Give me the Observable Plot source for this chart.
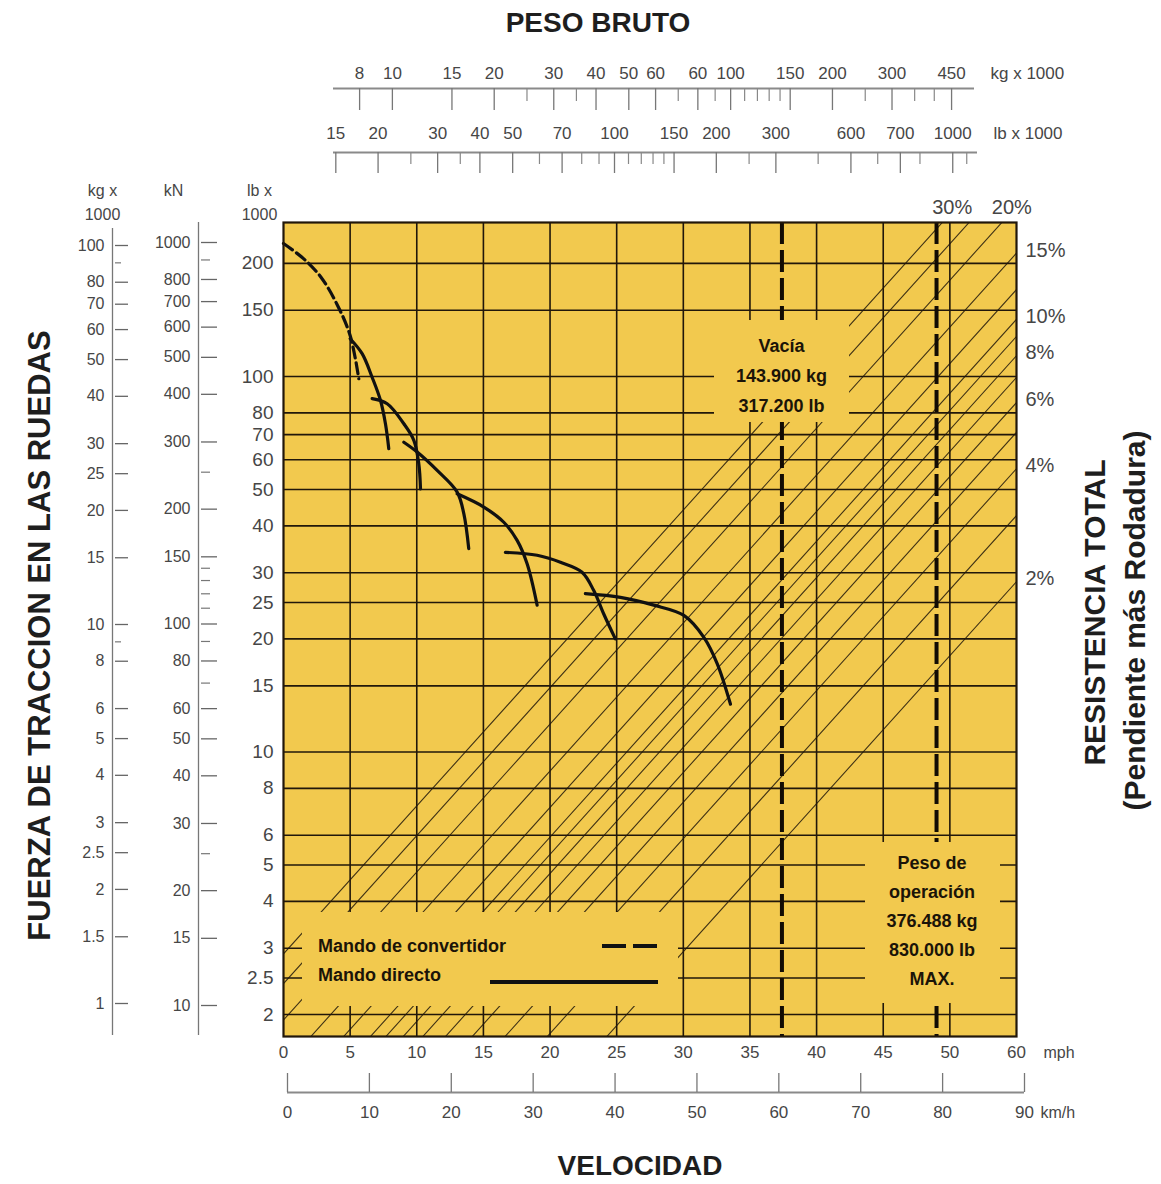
<!DOCTYPE html>
<html><head><meta charset="utf-8">
<script src="https://cdn.jsdelivr.net/npm/d3@7"></script>
<script src="https://cdn.jsdelivr.net/npm/@observablehq/plot@0.6"></script>
<style>
html,body{margin:0;padding:0;background:#fff;overflow:hidden;}
#chart{position:relative;width:1161px;height:1184px;font-family:"Liberation Sans",Arial,Helvetica,sans-serif;}
#chart svg{position:absolute;left:0;top:0;}
.box{position:absolute;background:#F2C94E;color:#1b1408;font-weight:bold;font-size:18px;text-align:center;box-sizing:border-box;}
.box div{white-space:nowrap;}
.leg{position:absolute;background:#F2C94E;box-sizing:border-box;}
.leg span{position:absolute;font-weight:bold;font-size:18px;color:#1b1408;white-space:nowrap;line-height:20px;}
</style></head><body><div id="chart"></div>
<script>
// ---------------- DATA ----------------
const speedTicks = [0,5,10,15,20,25,30,35,40,45,50,55];
const speedTickLabels = ["0","5","10","15","20","25","30","35","40","45","50","60"];
const speedGrid = [5,10,15,20,25,30,35,40,45,50];
const kmhTicks = [0,10,20,30,40,50,60,70,80,90];

const rimpullLbTicks = [200,150,100,80,70,60,50,40,30,25,20,15,10,8,6,5,4,3,2.5,2];
const rimpullKgMajor = [100,80,70,60,50,40,30,25,20,15,10,8,6,5,4,3,2.5,2,1.5,1];
const rimpullKgMinor = [90,9];
const rimpullKnMajor = [1000,800,700,600,500,400,300,200,150,100,80,60,50,40,30,20,15,10];
const rimpullKnMinor = [900,250,140,130,120,110,90,70,25];

const weightKgMajor = [8,10,15,20,30,40,50,60,80,100,150,200,300,450];
const weightKgLabels = ["8","10","15","20","30","40","50","60","60","100","150","200","300","450"];
const weightKgMinor = [25,35,70,90,110,120,130,140,250,350,400];
const weightLbMajor = [15,20,30,40,50,70,100,150,200,300,500,700,1000];
const weightLbLabels = ["15","20","30","40","50","70","100","150","200","300","600","700","1000"];
const weightLbMinor = [25,35,60,80,90,110,120,130,140,250,400,600,800,1100];

const gradePercents = [2,3,4,5,6,7,8,9,10,12,15,20,25,30];
const gradeLabelsRight = [{r:15,label:"15%"},{r:10,label:"10%"},{r:8,label:"8%"},{r:6,label:"6%"},{r:4,label:"4%"},{r:2,label:"2%"}];
const gradeLabelsTop = [{r:30,label:"30%"},{r:20,label:"20%"}];

// speed (mph), rimpull (lb x 1000)
const converterDrive = [[0,226],[1.5,206],[2.8,184],[4.0,156],[5.0,128.5],[5.65,98.6]];
const gear1 = [[5.0,126],[5.9,115],[6.65,99.5],[7.28,86.3],[7.65,74.8],[7.9,64.2]];
const gear2 = [[6.65,87.3],[7.78,84.6],[9.03,74.8],[9.78,67.6],[10.15,58.6],[10.28,50.2]];
const gear3 = [[9.03,66.8],[10.03,62.9],[11.53,56.2],[13.03,49.2],[13.53,43.1],[13.9,34.8]];
const gear4 = [[13.03,48.7],[15.03,44.9],[16.53,40.9],[17.53,36.6],[18.28,31.7],[19.03,24.6]];
const gear5 = [[16.65,34.0],[19.03,33.4],[20.78,32.0],[22.4,30.1],[23.28,26.9],[24.03,23.3],[24.9,20.0]];
const gear6 = [[22.65,26.4],[25.28,25.8],[27.78,24.6],[30.04,23.1],[31.54,20.2],[32.54,17.2],[33.54,13.4]];
const directDrive = [gear1,gear2,gear3,gear4,gear5,gear6];

// gross-weight marker lines (position read on the chart, mph) and their labels
const weightMarkers = [
  {mph: 37.4, rimpull: 100, lines: ["Vacía","143.900 kg","317.200 lb"]},
  {mph: 49.0, rimpull: 3.52, lines: ["Peso de","operación","376.488 kg","830.000 lb","MAX."]}
];
const legendItems = [{label:"Mando de convertidor", dashed:true},{label:"Mando directo", dashed:false}];

// ---------------- SCALE CALIBRATION ----------------
const W = 1161, H = 1184;
const FONT = '"Liberation Sans", Arial, Helvetica, sans-serif';
const INK = "#21170a";
const YELLOW = "#F2C94E";
const LABEL = "#464646";
const TITLE = "#1e1e1e";
const LB_PER_KG = 2.20462;
const mL = 283, mR = 145, mT = 222, mB = 148;
const pxPerMph = (W - mL - mR) / 55;
const pxToMph = px => (px - mL) / pxPerMph;
// top gross-weight scale: kg x1000 = 10 at 8.17 mph, 100 at 33.55 mph
const kgToMph = kg => 8.17 + 25.38 * Math.log10(kg / 10);
const mphToKg = m => 10 * Math.pow(10, (m - 8.17) / 25.38);
const gradeFactor = 0.92;
const gradeRimpull = (r, m) => r / 100 * gradeFactor * mphToKg(m) * LB_PER_KG;
const yTop = 257, yBottom = 1.747;
const gradeMphAtTop = r => kgToMph(yTop / (r / 100 * gradeFactor * LB_PER_KG));

const gradeSegments = gradePercents.flatMap(r => [-2, 58].map(m => ({r, mph: m, rimpull: gradeRimpull(r, m)})));
const tx = (arr, labels) => arr.map((v, i) => ({v, label: labels ? labels[i] : String(v)}));
const baseStyle = {background: "transparent", overflow: "visible", fontFamily: FONT};
const M = "middle";

// ---------------- MAIN PLOT ----------------
const main = Plot.plot({
  width: W, height: H, marginLeft: mL, marginRight: mR, marginTop: mT, marginBottom: mB,
  x: {domain: [0, 55], axis: null},
  y: {type: "log", domain: [yBottom, yTop], axis: null},
  style: baseStyle,
  marks: [
    Plot.frame({fill: YELLOW, stroke: null}),
    Plot.line(gradeSegments, {x: "mph", y: "rimpull", z: "r", stroke: INK, strokeWidth: 1.1, strokeOpacity: 0.85, clip: true}),
    Plot.ruleX(speedGrid, {stroke: INK, strokeWidth: 1.6}),
    Plot.ruleY(rimpullLbTicks, {stroke: INK, strokeWidth: 1.6}),
    Plot.ruleX(weightMarkers, {x: "mph", stroke: "#120c04", strokeWidth: 4, strokeDasharray: "22,6"}),
    Plot.line(converterDrive, {x: d => d[0], y: d => d[1], curve: "catmull-rom", stroke: "#111", strokeWidth: 3.2, strokeDasharray: "11,5"}),
    ...directDrive.map(g => Plot.line(g, {x: d => d[0], y: d => d[1], curve: "catmull-rom", stroke: "#111", strokeWidth: 3.2})),
    Plot.frame({stroke: INK, strokeWidth: 2.2}),
    Plot.text(rimpullLbTicks, {y: d => d, text: d => String(d), frameAnchor: "left", textAnchor: "end", lineAnchor: M, dx: -10, fontSize: 19, fill: LABEL}),
    Plot.text(tx(speedTicks, speedTickLabels), {x: "v", text: "label", frameAnchor: "bottom", lineAnchor: M, dy: 16, fontSize: 17, fill: LABEL}),
    Plot.text(["mph"], {text: d => d, frameAnchor: "bottom-right", textAnchor: "start", lineAnchor: M, dx: 27, dy: 16, fontSize: 16, fill: LABEL}),
    Plot.text(gradeLabelsRight, {y: d => gradeRimpull(d.r, 55), text: "label", frameAnchor: "right", textAnchor: "start", lineAnchor: M, dx: 9, dy: -3, fontSize: 20, fill: LABEL}),
    Plot.text(gradeLabelsTop, {x: d => gradeMphAtTop(d.r), text: "label", frameAnchor: "top", lineAnchor: M, dx: 10, dy: -15, fontSize: 20, fill: LABEL}),
    Plot.text(["lb x\n1000"], {text: d => d, frameAnchor: "top-left", textAnchor: M, lineAnchor: M, dx: -24, dy: -22, lineHeight: 1.5, fontSize: 16, fill: LABEL}),
    Plot.text(["PESO BRUTO"], {text: d => d, frameAnchor: "top", textAnchor: M, lineAnchor: M, dx: -52, dy: -199, fontSize: 28, fontWeight: "bold", fill: TITLE}),
    Plot.text(["VELOCIDAD"], {text: d => d, frameAnchor: "bottom", textAnchor: M, lineAnchor: M, dx: -10, dy: 130, fontSize: 28, fontWeight: "bold", fill: TITLE}),
    Plot.text(["FUERZA DE TRACCION EN LAS RUEDAS"], {text: d => d, frameAnchor: "left", textAnchor: M, lineAnchor: M, dx: -243, dy: 6, rotate: -90, fontSize: 31, fontWeight: "bold", fill: TITLE}),
    Plot.text(["RESISTENCIA TOTAL"], {text: d => d, frameAnchor: "right", textAnchor: M, lineAnchor: M, dx: 79, dy: -17, rotate: -90, fontSize: 30, fontWeight: "bold", fill: TITLE}),
    Plot.text(["(Pendiente más Rodadura)"], {text: d => d, frameAnchor: "right", textAnchor: M, lineAnchor: M, dx: 119, dy: -9, rotate: -90, fontSize: 30, fontWeight: "bold", fill: TITLE})
  ]
});

// ---------------- LEFT AXES (kg x1000, kN) ----------------
const kgAtPx = p => Math.pow(10, (1003 - p) / 379);        // kg x1000 scale as drawn
const knAtPx = p => Math.pow(10, 1 + (1005 - p) / 381.5);  // kN scale as drawn
function leftAxis(left, right, top, bottom, domain, major, minor, header, hdx, hdy) {
  return Plot.plot({
    width: W, height: H, marginLeft: left, marginRight: W - right, marginTop: top, marginBottom: H - bottom,
    x: {domain: [0, 1], axis: null},
    y: {type: "log", domain, axis: null},
    style: baseStyle,
    marks: [
      Plot.ruleX([0], {stroke: "#777", strokeWidth: 1.3}),
      Plot.tickY(major, {y: d => d, stroke: "#666", strokeWidth: 1.3, insetLeft: 3}),
      Plot.tickY(minor, {y: d => d, stroke: "#777", strokeWidth: 1.2, insetLeft: 3, insetRight: 7}),
      Plot.text(major, {y: d => d, text: d => String(d), frameAnchor: "left", textAnchor: "end", lineAnchor: M, dx: -8, fontSize: 16, fill: LABEL}),
      Plot.text([header], {text: d => d, frameAnchor: "top-left", textAnchor: M, lineAnchor: M, dx: hdx, dy: hdy, lineHeight: 1.5, fontSize: 16, fill: LABEL})
    ]
  });
}
const kgAxis = leftAxis(112, 128, 228, 1035, [kgAtPx(1035), kgAtPx(228)], rimpullKgMajor, rimpullKgMinor, "kg x\n1000", -10, -28);
const knAxis = leftAxis(198, 217, 222, 1035, [knAtPx(1035), knAtPx(222)], rimpullKnMajor, rimpullKnMinor, "kN", -25, -34);

// ---------------- TOP WEIGHT SCALES ----------------
function topScale(left, right, top, bottom, domain, major, labels, minor, unit, ldy) {
  return Plot.plot({
    width: W, height: H, marginLeft: left, marginRight: W - right, marginTop: top, marginBottom: H - bottom,
    x: {type: "log", domain, axis: null},
    y: {domain: [0, 1], axis: null},
    style: baseStyle,
    marks: [
      Plot.ruleY([1], {stroke: "#8a8a8a", strokeWidth: 2}),
      Plot.tickX(major, {x: d => d, stroke: "#777", strokeWidth: 1.3}),
      Plot.tickX(minor, {x: d => d, stroke: "#888", strokeWidth: 1.2, insetBottom: 9}),
      Plot.text(tx(major, labels), {x: "v", text: "label", frameAnchor: "top", lineAnchor: M, dy: ldy, fontSize: 17, fill: LABEL}),
      Plot.text([unit], {text: d => d, frameAnchor: "top-right", textAnchor: "start", lineAnchor: M, dx: 16, dy: ldy, fontSize: 17, fill: LABEL})
    ]
  });
}
const kgDomain = [mphToKg(pxToMph(333)), mphToKg(pxToMph(974))];
const lbDomain = [mphToKg(pxToMph(333)) * LB_PER_KG, mphToKg(pxToMph(977)) * LB_PER_KG];
const kgTop = topScale(333, 974, 88, 110, kgDomain, weightKgMajor, weightKgLabels, weightKgMinor, "kg x 1000", -15);
const lbTop = topScale(333, 977, 152, 173, lbDomain, weightLbMajor, weightLbLabels, weightLbMinor, "lb x 1000", -19);

// ---------------- BOTTOM km/h SCALE ----------------
const kmhAxis = Plot.plot({
  width: W, height: H, marginLeft: 287, marginRight: W - 1024, marginTop: 1073, marginBottom: H - 1092,
  x: {domain: [0, 90], axis: null},
  y: {domain: [0, 1], axis: null},
  style: baseStyle,
  marks: [
    Plot.ruleY([0], {stroke: "#8a8a8a", strokeWidth: 2}),
    Plot.tickX(kmhTicks, {x: d => d, stroke: "#777", strokeWidth: 1.3}),
    Plot.text(kmhTicks, {x: d => d, text: d => String(d), frameAnchor: "bottom", lineAnchor: M, dy: 20, fontSize: 17, fill: LABEL}),
    Plot.text(["km/h"], {text: d => d, frameAnchor: "bottom-right", textAnchor: "start", lineAnchor: M, dx: 16, dy: 20, fontSize: 16, fill: LABEL})
  ]
});

const chart = document.getElementById("chart");
[main, kgAxis, knAxis, kgTop, lbTop, kmhAxis].forEach(s => chart.appendChild(s));

// ---------------- ANNOTATION BOXES (positioned with the plot scales) ----------------
const xs = main.scale("x"), ys = main.scale("y");
function addBox(m, width, padTop, padBottom, lineH, dxc) {
  const n = m.lines.length;
  const cy = ys.apply(m.rimpull);
  const box = document.createElement("div");
  box.className = "box";
  const h = padTop + padBottom + n * lineH;
  box.style.width = width + "px";
  box.style.height = h + "px";
  box.style.left = (xs.apply(m.mph) + dxc - width / 2) + "px";
  box.style.top = (cy - padTop - (n - 1) / 2 * lineH - lineH / 2) + "px";
  box.style.paddingTop = padTop + "px";
  m.lines.forEach(t => { const d = document.createElement("div"); d.textContent = t; d.style.height = lineH + "px"; d.style.lineHeight = lineH + "px"; box.appendChild(d); });
  chart.appendChild(box);
}
addBox(weightMarkers[0], 135, 11, 1, 30, 0);
addBox(weightMarkers[1], 135, 7, 9, 29, -4);

// legend
const fyB = ys.range[0];
const leg = document.createElement("div");
leg.className = "leg";
const legL = mL + 19, legR = mL + 395, legT = fyB - 124, legB = fyB - 30;
leg.style.left = legL + "px"; leg.style.top = legT + "px";
leg.style.width = (legR - legL) + "px"; leg.style.height = (legB - legT) + "px";
const ns = "http://www.w3.org/2000/svg";
legendItems.forEach((it, i) => {
  const s = document.createElement("span");
  s.textContent = it.label;
  s.style.left = "16px";
  s.style.top = (24 + i * 29) + "px";
  leg.appendChild(s);
});
const lsvg = document.createElementNS(ns, "svg");
lsvg.setAttribute("width", legR - legL); lsvg.setAttribute("height", legB - legT);
lsvg.style.position = "absolute"; lsvg.style.left = "0"; lsvg.style.top = "0";
legendItems.forEach((it, i) => {
  const l = document.createElementNS(ns, "line");
  const y = 34 + i * 36;
  l.setAttribute("x1", it.dashed ? 300 : 188); l.setAttribute("x2", 356);
  l.setAttribute("y1", y); l.setAttribute("y2", y);
  l.setAttribute("stroke", "#111"); l.setAttribute("stroke-width", "4");
  if (it.dashed) l.setAttribute("stroke-dasharray", "24,7");
  lsvg.appendChild(l);
});
leg.appendChild(lsvg);
chart.appendChild(leg);
</script></body></html>
